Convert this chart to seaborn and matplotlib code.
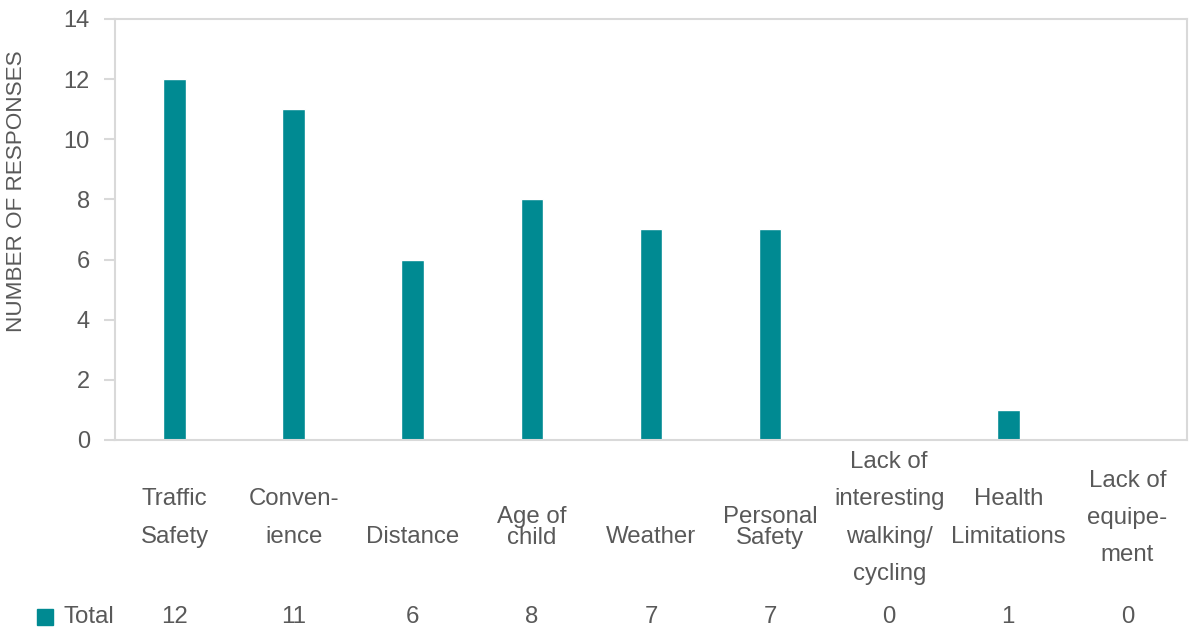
import pandas as pd
import seaborn as sns
import matplotlib.pyplot as plt
from matplotlib.patches import Rectangle

categories = ['Traffic Safety', 'Convenience', 'Distance', 'Age of child', 'Weather',
              'Personal Safety', 'Lack of interesting walking/cycling',
              'Health Limitations', 'Lack of equipement']
tick_labels = ['Traffic\nSafety', 'Conven-\nience', 'Distance', 'Age of\nchild', 'Weather',
               'Personal\nSafety', 'Lack of\ninteresting\nwalking/\ncycling',
               'Health\nLimitations', 'Lack of\nequipe-\nment']
totals = [12, 11, 6, 8, 7, 7, 0, 1, 0]

df = pd.DataFrame({'category': categories, 'total': totals})

sns.set_style('white')
plt.rcParams['font.family'] = ['Liberation Sans', 'DejaVu Sans']

grey = '#595959'
teal = '#008A92'
line = '#D9D9D9'
fs = 17.3

fig = plt.figure(figsize=(11.89, 6.32), dpi=100)
ax = fig.add_axes([0.0967, 0.3038, 0.9016, 0.6662])

sns.barplot(data=df, x='category', y='total', color=teal, width=0.19,
            saturation=1, ax=ax, order=categories)

ax.set_ylim(0, 14)
ax.set_yticks(range(0, 15, 2))
ax.set_xlim(-0.5, len(categories) - 0.5)
ax.tick_params(axis='y', labelsize=17, labelcolor=grey, color=line,
               length=8, width=1.5, left=True, pad=10)
ax.set_xticks([])
ax.set_xlabel('')
ax.set_ylabel('NUMBER OF RESPONSES', fontsize=16.2, color=grey)
ax.yaxis.set_label_coords(-0.082, 0.59)

for s in ax.spines.values():
    s.set_visible(True)
    s.set_color(line)
    s.set_linewidth(1.5)

# category labels under the axis
tight = {'Age of\nchild', 'Personal\nSafety'}
for i, lab in enumerate(tick_labels):
    if lab in tight:
        y, ls = -0.207, 0.93
    elif '\n' not in lab:
        y, ls = -0.230, 1.9
    else:
        y, ls = -0.185, 1.9
    ax.text(i, y, lab, transform=ax.get_xaxis_transform(), ha='center',
            va='center', fontsize=fs, color=grey, linespacing=ls)

# data table row
for i, v in enumerate(totals):
    ax.text(i, -0.42, str(v), transform=ax.get_xaxis_transform(), ha='center',
            va='center', fontsize=fs, color=grey)
fig.patches.append(Rectangle((37 / 1189, 1 - 625 / 632), 16 / 1189, 16 / 632,
                             transform=fig.transFigure, color=teal))
fig.text(63 / 1189, 1 - 617 / 632, 'Total', ha='left', va='center',
         fontsize=fs, color=grey)

fig.savefig('out.png', dpi=100)
